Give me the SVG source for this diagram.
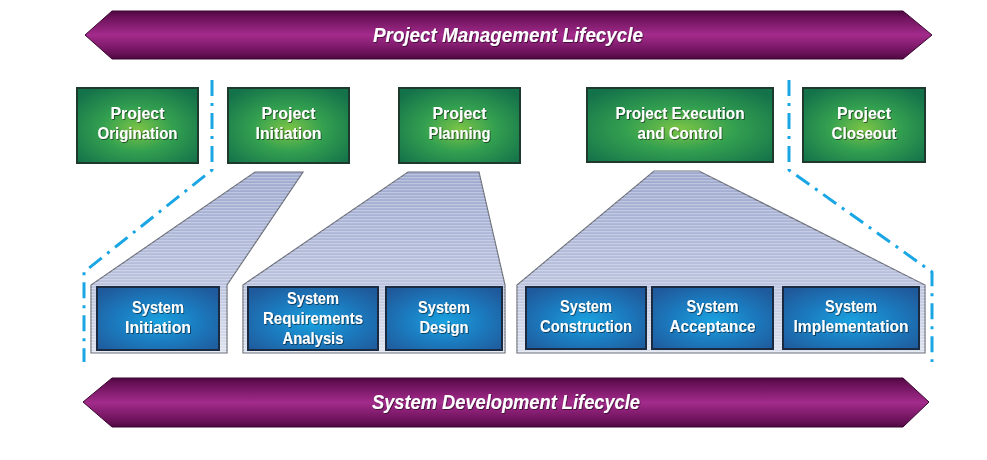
<svg xmlns="http://www.w3.org/2000/svg" width="987" height="460" viewBox="0 0 987 460">
<defs>
  <linearGradient id="purple" x1="0" y1="0" x2="0" y2="1">
    <stop offset="0" stop-color="#4e0840"/>
    <stop offset="0.12" stop-color="#6a1158"/>
    <stop offset="0.5" stop-color="#a32b8c"/>
    <stop offset="0.88" stop-color="#6a1158"/>
    <stop offset="1" stop-color="#4e0840"/>
  </linearGradient>
  <radialGradient id="green" cx="0.5" cy="0.55" r="0.65">
    <stop offset="0" stop-color="#7cc445"/>
    <stop offset="0.45" stop-color="#33a050"/>
    <stop offset="1" stop-color="#14724a"/>
  </radialGradient>
  <radialGradient id="blue" cx="0.5" cy="0.55" r="0.65">
    <stop offset="0" stop-color="#1aa2e0"/>
    <stop offset="0.5" stop-color="#1b7cc0"/>
    <stop offset="1" stop-color="#1f5b9c"/>
  </radialGradient>
  <linearGradient id="funnel" x1="0" y1="0" x2="0" y2="1">
    <stop offset="0" stop-color="#9ea9cf"/>
    <stop offset="0.6" stop-color="#b9c1dd"/>
    <stop offset="1" stop-color="#dde2ee"/>
  </linearGradient>
  <pattern id="stripes" width="4" height="3" patternUnits="userSpaceOnUse">
    <rect x="0" y="0" width="4" height="1.2" fill="#ffffff" fill-opacity="0.3"/>
  </pattern>
  <filter id="sh" x="-10%" y="-10%" width="120%" height="130%">
    <feDropShadow dx="0.8" dy="0.8" stdDeviation="0.6" flood-color="#000" flood-opacity="0.65"/>
  </filter>
</defs>
<style>
  .banner { fill: url(#purple); stroke: #3a0630; stroke-width: 1; }
  .btxt { font-family: "Liberation Sans", Arial, sans-serif; font-weight: bold; font-style: italic; font-size: 20px; fill: #ffffff; text-anchor: middle; filter: url(#sh); }
  .gbox { fill: url(#green); stroke: #1e3a2c; stroke-width: 2; }
  .bbox { fill: url(#blue); stroke: #1a2a40; stroke-width: 2; }
  .ntxt { font-family: "Liberation Sans", Arial, sans-serif; font-weight: bold; font-size: 17px; fill: #ffffff; text-anchor: middle; filter: url(#sh); }
  .cont { fill: url(#funnel); stroke: #6a6e78; stroke-width: 1.2; }
  .str { fill: url(#stripes); stroke: none; }
  .dd { fill: none; stroke: #1aa6e4; stroke-width: 3; stroke-dasharray: 16 7 3 7; stroke-linejoin: round; }
</style>

<g id="pm-lifecycle">
  <polygon class="banner" points="85,35 112,11 903,11 932,35 903,59 112,59"/>
  <text class="btxt" x="508" y="42" textLength="270" lengthAdjust="spacingAndGlyphs">Project Management Lifecycle</text>
</g>

<g id="sd-lifecycle">
  <polygon class="banner" points="83,402 112,378 903,378 929,402 903,427 112,427"/>
  <text class="btxt" x="506" y="409" textLength="268" lengthAdjust="spacingAndGlyphs">System Development Lifecycle</text>
</g>

<g id="containers">
  <g id="container-initiation">
    <polygon class="cont" points="255,172 303,172 227,285 227,353 91,353 91,285"/>
    <polygon class="str" points="255,172 303,172 227,285 227,353 91,353 91,285"/>
  </g>
  <g id="container-planning">
    <polygon class="cont" points="408,172 479,172 505,285 505,353 243,353 243,285"/>
    <polygon class="str" points="408,172 479,172 505,285 505,353 243,353 243,285"/>
  </g>
  <g id="container-execution">
    <polygon class="cont" points="654,171 699,171 925,285 925,353 517,353 517,285"/>
    <polygon class="str" points="654,171 699,171 925,285 925,353 517,353 517,285"/>
  </g>
</g>

<g id="connectors">
  <polyline class="dd" points="212,80 212,170 84,272 84,362"/>
  <polyline class="dd" points="789,80 789,170 932,272 932,362"/>
</g>

<g id="project-origination">
  <rect class="gbox" x="77" y="88" width="121" height="75"/>
  <text class="ntxt" x="137.5" y="119" textLength="54" lengthAdjust="spacingAndGlyphs">Project</text>
  <text class="ntxt" x="137.5" y="139" textLength="80" lengthAdjust="spacingAndGlyphs">Origination</text>
</g>
<g id="project-initiation">
  <rect class="gbox" x="228" y="88" width="121" height="75"/>
  <text class="ntxt" x="288.5" y="119" textLength="54" lengthAdjust="spacingAndGlyphs">Project</text>
  <text class="ntxt" x="288.5" y="139" textLength="66" lengthAdjust="spacingAndGlyphs">Initiation</text>
</g>
<g id="project-planning">
  <rect class="gbox" x="399" y="88" width="121" height="75"/>
  <text class="ntxt" x="459.5" y="119" textLength="54" lengthAdjust="spacingAndGlyphs">Project</text>
  <text class="ntxt" x="459.5" y="139" textLength="62" lengthAdjust="spacingAndGlyphs">Planning</text>
</g>
<g id="project-execution">
  <rect class="gbox" x="587" y="88" width="186" height="74"/>
  <text class="ntxt" x="680" y="119" textLength="129" lengthAdjust="spacingAndGlyphs">Project Execution</text>
  <text class="ntxt" x="680" y="139" textLength="85" lengthAdjust="spacingAndGlyphs">and Control</text>
</g>
<g id="project-closeout">
  <rect class="gbox" x="803" y="88" width="122" height="74"/>
  <text class="ntxt" x="864" y="119" textLength="54" lengthAdjust="spacingAndGlyphs">Project</text>
  <text class="ntxt" x="864" y="139" textLength="65" lengthAdjust="spacingAndGlyphs">Closeout</text>
</g>

<g id="system-initiation">
  <rect class="bbox" x="97" y="287" width="122" height="63"/>
  <text class="ntxt" x="158" y="313" textLength="52" lengthAdjust="spacingAndGlyphs">System</text>
  <text class="ntxt" x="158" y="333" textLength="66" lengthAdjust="spacingAndGlyphs">Initiation</text>
</g>
<g id="system-requirements">
  <rect class="bbox" x="248" y="287" width="130" height="63"/>
  <text class="ntxt" x="313" y="304" textLength="52" lengthAdjust="spacingAndGlyphs">System</text>
  <text class="ntxt" x="313" y="324" textLength="100" lengthAdjust="spacingAndGlyphs">Requirements</text>
  <text class="ntxt" x="313" y="344" textLength="61" lengthAdjust="spacingAndGlyphs">Analysis</text>
</g>
<g id="system-design">
  <rect class="bbox" x="386" y="287" width="116" height="63"/>
  <text class="ntxt" x="444" y="313" textLength="52" lengthAdjust="spacingAndGlyphs">System</text>
  <text class="ntxt" x="444" y="333" textLength="49" lengthAdjust="spacingAndGlyphs">Design</text>
</g>
<g id="system-construction">
  <rect class="bbox" x="526" y="287" width="120" height="62"/>
  <text class="ntxt" x="586" y="312" textLength="52" lengthAdjust="spacingAndGlyphs">System</text>
  <text class="ntxt" x="586" y="332" textLength="92" lengthAdjust="spacingAndGlyphs">Construction</text>
</g>
<g id="system-acceptance">
  <rect class="bbox" x="652" y="287" width="121" height="62"/>
  <text class="ntxt" x="712.5" y="312" textLength="52" lengthAdjust="spacingAndGlyphs">System</text>
  <text class="ntxt" x="712.5" y="332" textLength="86" lengthAdjust="spacingAndGlyphs">Acceptance</text>
</g>
<g id="system-implementation">
  <rect class="bbox" x="783" y="287" width="136" height="62"/>
  <text class="ntxt" x="851" y="312" textLength="52" lengthAdjust="spacingAndGlyphs">System</text>
  <text class="ntxt" x="851" y="332" textLength="115" lengthAdjust="spacingAndGlyphs">Implementation</text>
</g>
</svg>
